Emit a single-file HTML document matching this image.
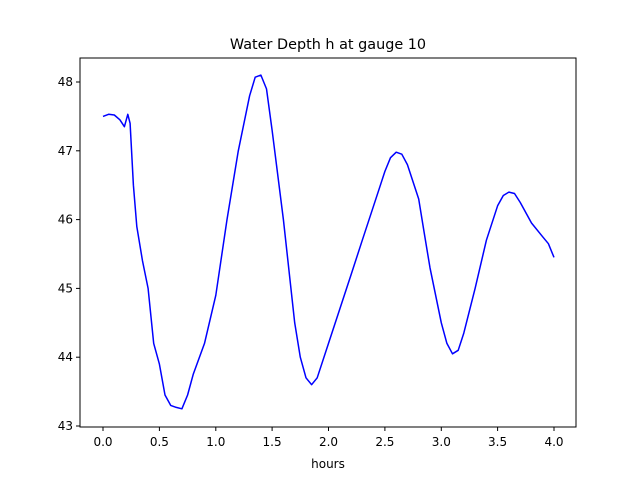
<!DOCTYPE html>
<html><head><meta charset="utf-8"><style>body{margin:0;background:#fff}svg{display:block}text{font-family:"DejaVu Sans","Liberation Sans",sans-serif;font-size:12px;fill:#000}</style></head><body>
<svg width="640" height="480" viewBox="0 0 640 480">
<rect width="640" height="480" fill="#fff"/>
<text x="328" y="49" text-anchor="middle" style="font-size:14.4px">Water Depth h at gauge 10</text>
<polyline fill="none" stroke="#0000ff" stroke-width="1.5" stroke-linejoin="round" points="103,116.4 108.6,114.3 114.3,115 119.9,119.8 124.4,126.7 127.8,114.3 130.1,123.3 133.4,185.2 136.8,226.5 142.5,260.9 148.1,288.4 153.7,343.4 159.4,364.1 165,395 170.7,405.4 176.3,407.4 181.9,408.8 187.6,395 193.2,374.4 204.5,343.4 215.8,295.3 227,219.6 238.3,150.8 249.6,95.8 255.2,77.2 260.9,75.1 266.5,88.9 272.1,130.2 283.4,219.6 294.7,322.8 300.3,357.2 306,377.8 311.6,384.7 317.2,377.8 328.5,343.4 339.8,309 351.1,274.6 362.3,240.2 373.6,205.8 384.9,171.4 390.5,157.7 396.2,152.2 401.8,154.2 407.4,164.6 418.7,199 424.3,233.4 430,267.8 441.3,322.8 446.9,343.4 452.5,353.8 458.2,350.3 463.8,333.1 475.1,288.4 486.4,240.2 497.6,205.8 503.3,195.5 508.9,192.1 514.5,193.5 520.2,202.4 531.5,223 542.7,236.8 548.4,243.7 554,257.4"/>
<rect x="80" y="58" width="496" height="369" fill="none" stroke="#000" stroke-width="1"/>
<g stroke="#000" stroke-width="1">
<line x1="103" y1="427" x2="103" y2="431"/><line x1="159.4" y1="427" x2="159.4" y2="431"/><line x1="215.8" y1="427" x2="215.8" y2="431"/><line x1="272.1" y1="427" x2="272.1" y2="431"/><line x1="328.5" y1="427" x2="328.5" y2="431"/><line x1="384.9" y1="427" x2="384.9" y2="431"/><line x1="441.3" y1="427" x2="441.3" y2="431"/><line x1="497.6" y1="427" x2="497.6" y2="431"/><line x1="554" y1="427" x2="554" y2="431"/>
<line x1="76" y1="426" x2="80" y2="426"/><line x1="76" y1="357.2" x2="80" y2="357.2"/><line x1="76" y1="288.4" x2="80" y2="288.4"/><line x1="76" y1="219.6" x2="80" y2="219.6"/><line x1="76" y1="150.8" x2="80" y2="150.8"/><line x1="76" y1="82" x2="80" y2="82"/>
</g>
<g text-anchor="middle">
<text x="103" y="446">0.0</text><text x="159.4" y="446">0.5</text><text x="215.8" y="446">1.0</text><text x="272.1" y="446">1.5</text><text x="328.5" y="446">2.0</text><text x="384.9" y="446">2.5</text><text x="441.3" y="446">3.0</text><text x="497.6" y="446">3.5</text><text x="554" y="446">4.0</text>
<text x="328" y="468">hours</text>
</g>
<g text-anchor="end">
<text x="73" y="430">43</text><text x="73" y="361.2">44</text><text x="73" y="292.4">45</text><text x="73" y="223.6">46</text><text x="73" y="154.8">47</text><text x="73" y="86">48</text>
</g>
</svg>
</body></html>
